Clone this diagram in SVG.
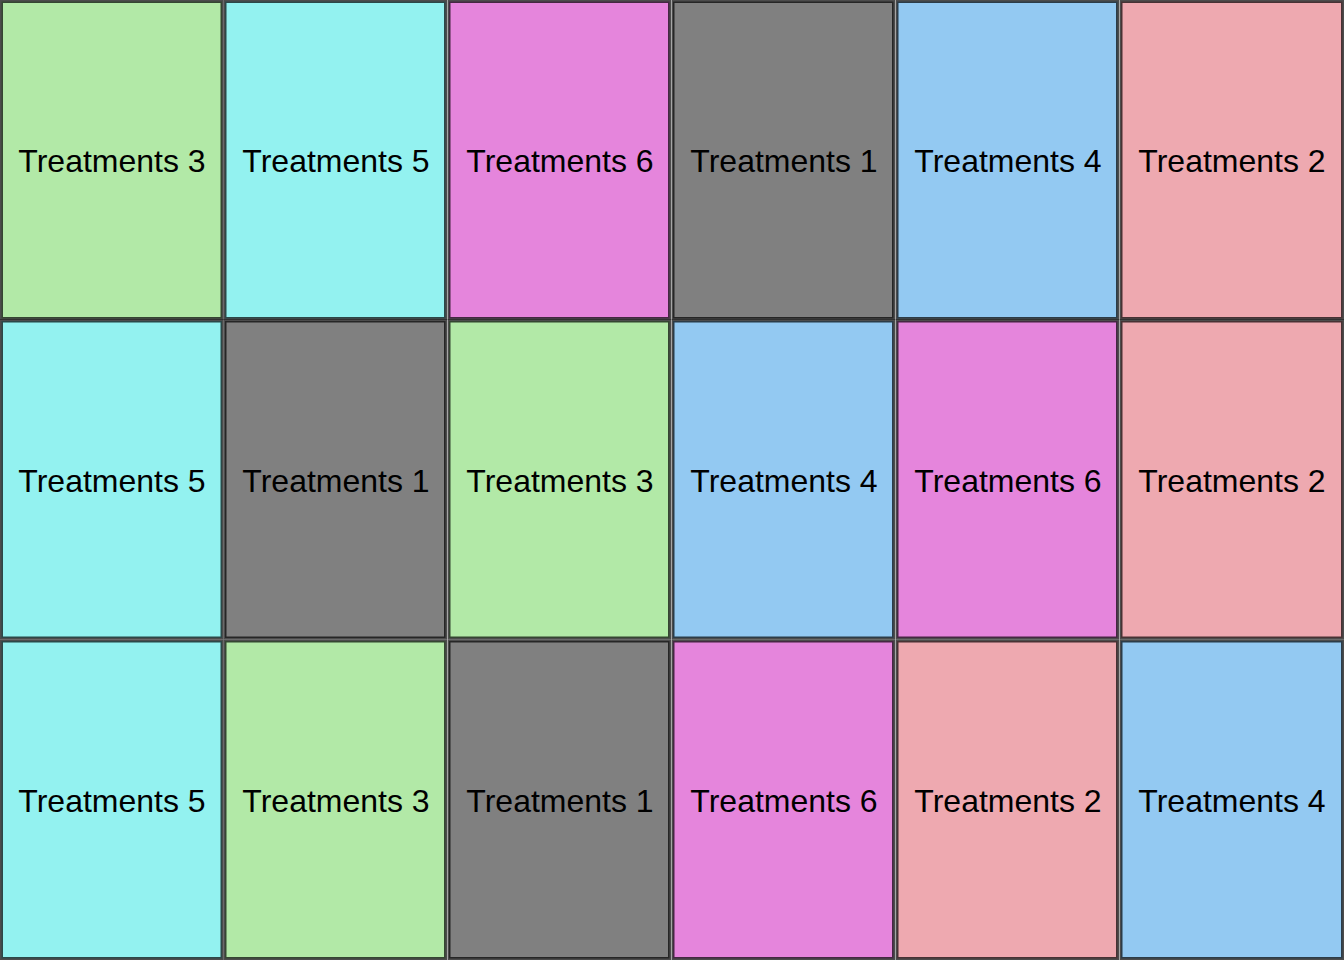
<svg xmlns="http://www.w3.org/2000/svg" width="1344" height="960" viewBox="0 0 1344 960">
<style>
rect{stroke:#000;stroke-opacity:0.7;stroke-width:3}
text{font-family:"Liberation Sans",Arial,sans-serif;font-size:32px;fill:#000;text-anchor:middle}
.t1{fill:#808080}.t2{fill:#eea9b0}.t3{fill:#b2e9a7}.t4{fill:#93c9f2}.t5{fill:#93f2f0}.t6{fill:#e585dc}
</style>
<g id="cells">
<g id="r1c1"><rect class="t3" x="1.5" y="1.5" width="220.5" height="317"/><text x="112" y="171.5">Treatments 3</text></g>
<g id="r1c2"><rect class="t5" x="225" y="1.5" width="220.5" height="317"/><text x="336" y="171.5">Treatments 5</text></g>
<g id="r1c3"><rect class="t6" x="449" y="1.5" width="220.5" height="317"/><text x="560" y="171.5">Treatments 6</text></g>
<g id="r1c4"><rect class="t1" x="673" y="1.5" width="220.5" height="317"/><text x="784" y="171.5">Treatments 1</text></g>
<g id="r1c5"><rect class="t4" x="897" y="1.5" width="220.5" height="317"/><text x="1008" y="171.5">Treatments 4</text></g>
<g id="r1c6"><rect class="t2" x="1121" y="1.5" width="221.5" height="317"/><text x="1232" y="171.5">Treatments 2</text></g>
<g id="r2c1"><rect class="t5" x="1.5" y="321" width="220.5" height="317"/><text x="112" y="491.5">Treatments 5</text></g>
<g id="r2c2"><rect class="t1" x="225" y="321" width="220.5" height="317"/><text x="336" y="491.5">Treatments 1</text></g>
<g id="r2c3"><rect class="t3" x="449" y="321" width="220.5" height="317"/><text x="560" y="491.5">Treatments 3</text></g>
<g id="r2c4"><rect class="t4" x="673" y="321" width="220.5" height="317"/><text x="784" y="491.5">Treatments 4</text></g>
<g id="r2c5"><rect class="t6" x="897" y="321" width="220.5" height="317"/><text x="1008" y="491.5">Treatments 6</text></g>
<g id="r2c6"><rect class="t2" x="1121" y="321" width="221.5" height="317"/><text x="1232" y="491.5">Treatments 2</text></g>
<g id="r3c1"><rect class="t5" x="1.5" y="641" width="220.5" height="317.5"/><text x="112" y="811.5">Treatments 5</text></g>
<g id="r3c2"><rect class="t3" x="225" y="641" width="220.5" height="317.5"/><text x="336" y="811.5">Treatments 3</text></g>
<g id="r3c3"><rect class="t1" x="449" y="641" width="220.5" height="317.5"/><text x="560" y="811.5">Treatments 1</text></g>
<g id="r3c4"><rect class="t6" x="673" y="641" width="220.5" height="317.5"/><text x="784" y="811.5">Treatments 6</text></g>
<g id="r3c5"><rect class="t2" x="897" y="641" width="220.5" height="317.5"/><text x="1008" y="811.5">Treatments 2</text></g>
<g id="r3c6"><rect class="t4" x="1121" y="641" width="221.5" height="317.5"/><text x="1232" y="811.5">Treatments 4</text></g>
</g>
<g id="connectors"/>
</svg>
